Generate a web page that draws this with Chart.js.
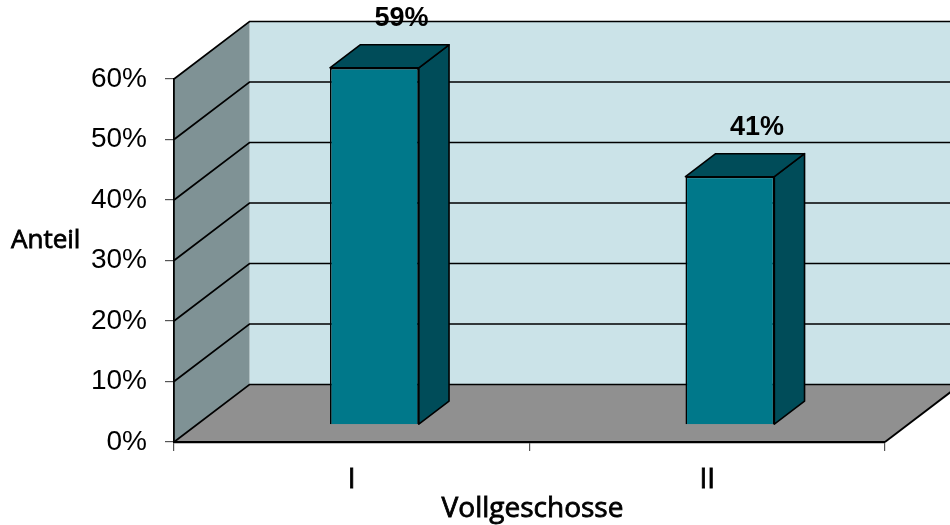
<!DOCTYPE html>
<html>
<head>
<meta charset="utf-8">
<script src="https://cdn.jsdelivr.net/npm/chart.js@4/dist/chart.umd.min.js"></script>
<style>
html,body{margin:0;padding:0;background:#fff;}
#wrap{width:950px;height:525px;}
</style>
</head>
<body>
<div id="wrap"><canvas id="c" width="950" height="525"></canvas></div>
<script>
const categories = ['I', 'II'];
const shares = [59, 41];
const valueLabels = ['59%', '41%'];
const yTicks = [0, 10, 20, 30, 40, 50, 60];
const yTitle = 'Anteil';
const xTitle = 'Vollgeschosse';

const DX = 75.5, DY = -57.5;          // depth of the 3D box
const FRONT = 0.3, DEPTH = 0.4;        // bar position inside the depth

function mediumText(ctx, txt, x, y) {
  ctx.fillText(txt, x, y);
  ctx.lineWidth = 0.8;
  ctx.strokeStyle = '#000';
  ctx.strokeText(txt, x, y);
}

const box3d = {
  id: 'box3d',
  beforeDraw(chart) {
    const ctx = chart.ctx, ca = chart.chartArea;
    const ys = chart.scales.y;
    const y0 = ys.getPixelForValue(0), yTop = ys.getPixelForValue(60);
    ctx.save();
    ctx.fillStyle = '#fff';
    ctx.fillRect(0, 0, chart.width, chart.height);
    // back wall
    ctx.fillStyle = '#CBE3E8';
    ctx.fillRect(ca.left + DX, yTop + DY, ca.right - ca.left + 10, y0 - yTop);
    // left wall
    ctx.fillStyle = '#7F9295';
    ctx.beginPath();
    ctx.moveTo(ca.left, y0); ctx.lineTo(ca.left, yTop);
    ctx.lineTo(ca.left + DX, yTop + DY); ctx.lineTo(ca.left + DX, y0 + DY);
    ctx.closePath(); ctx.fill();
    // floor
    ctx.fillStyle = '#909090';
    ctx.beginPath();
    ctx.moveTo(ca.left, y0); ctx.lineTo(ca.right, y0);
    ctx.lineTo(ca.right + DX, y0 + DY); ctx.lineTo(ca.left + DX, y0 + DY);
    ctx.closePath(); ctx.fill();
    ctx.strokeStyle = '#000'; ctx.lineWidth = 1.8;
    ctx.beginPath();
    ctx.moveTo(ca.right, y0); ctx.lineTo(ca.right + DX, y0 + DY);
    ctx.stroke();
    // grid lines on walls
    ctx.lineWidth = 1.7;
    yTicks.forEach(v => {
      const yy = ys.getPixelForValue(v);
      ctx.beginPath();
      ctx.moveTo(ca.left, yy);
      ctx.lineTo(ca.left + DX, yy + DY);
      ctx.lineTo(chart.width + 20, yy + DY);
      ctx.stroke();
    });
    // axis titles
    ctx.fillStyle = '#000';
    ctx.font = '26px "Open Sans"';
    ctx.textAlign = 'left'; ctx.textBaseline = 'alphabetic';
    mediumText(ctx, yTitle, 11, 248);
    ctx.font = '28px "Open Sans"';
    ctx.textAlign = 'center';
    mediumText(ctx, xTitle, (ca.left + ca.right) / 2 + 3, 517);
    ctx.restore();
  },
  beforeDatasetsDraw(chart) {
    chart.ctx.save();
    chart.ctx.translate(DX * FRONT, DY * FRONT);
  },
  afterDatasetsDraw(chart) {
    const ctx = chart.ctx;
    ctx.restore();
    const meta = chart.getDatasetMeta(0);
    const tx = DX * FRONT, ty = DY * FRONT, bdx = DX * DEPTH, bdy = DY * DEPTH;
    ctx.save();
    ctx.strokeStyle = '#000'; ctx.lineWidth = 1.6; ctx.lineJoin = 'round';
    meta.data.forEach((el, i) => {
      const p = el.getProps(['x', 'y', 'base', 'width'], true);
      const l = p.x - p.width / 2 + tx, r = p.x + p.width / 2 + tx;
      const t = p.y + ty, b = p.base + ty;
      ctx.fillStyle = '#004C59';
      // side
      ctx.beginPath();
      ctx.moveTo(r, t); ctx.lineTo(r + bdx, t + bdy); ctx.lineTo(r + bdx, b + bdy); ctx.lineTo(r, b);
      ctx.closePath(); ctx.fill(); ctx.stroke();
      // top
      ctx.beginPath();
      ctx.moveTo(l, t); ctx.lineTo(l + bdx, t + bdy); ctx.lineTo(r + bdx, t + bdy); ctx.lineTo(r, t);
      ctx.closePath(); ctx.fill(); ctx.stroke();
      // value label
      ctx.fillStyle = '#000';
      ctx.font = 'bold 27px "Liberation Sans", Arial, sans-serif';
      ctx.textAlign = 'center'; ctx.textBaseline = 'middle';
      ctx.fillText(valueLabels[i], p.x + tx + bdx * 0.9, t + bdy - 26);
    });
    ctx.restore();
  }
};

new Chart(document.getElementById('c'), {
  type: 'bar',
  data: {
    labels: categories,
    datasets: [{
      data: shares,
      backgroundColor: '#00788A',
      borderColor: '#000',
      borderWidth: 1.6,
      categoryPercentage: 1.0,
      barPercentage: 0.25
    }]
  },
  options: {
    responsive: false,
    devicePixelRatio: 1,
    animation: false,
    layout: { padding: { left: 8, top: 79, right: 65, bottom: 0 } },
    plugins: { legend: { display: false }, tooltip: { enabled: false } },
    scales: {
      x: {
        afterFit: s => { s.height = 83; },
        grid: { display: true, offset: true, drawOnChartArea: false, drawTicks: true, tickLength: 9, color: '#555', lineWidth: 1.2 },
        border: { display: true, color: '#000', width: 2.2 },
        ticks: { color: '#000', font: { family: '"Open Sans"', size: 28 }, padding: 12, textStrokeColor: '#000', textStrokeWidth: 0.8 },
        title: { display: false }
      },
      y: {
        min: 0, max: 60,
        afterFit: s => { s.width = 166; },
        afterBuildTicks: s => { s.ticks = yTicks.map(v => ({ value: v })); },
        grid: { display: true, drawOnChartArea: false, drawTicks: true, tickLength: 9, color: '#555', lineWidth: 1.2 },
        border: { display: true, color: '#000', width: 1.8 },
        ticks: { color: '#000', font: { family: '"Liberation Sans", Arial, sans-serif', size: 28 }, padding: 18, callback: v => v + '%' }
      }
    }
  },
  plugins: [box3d]
});
</script>
</body>
</html>
